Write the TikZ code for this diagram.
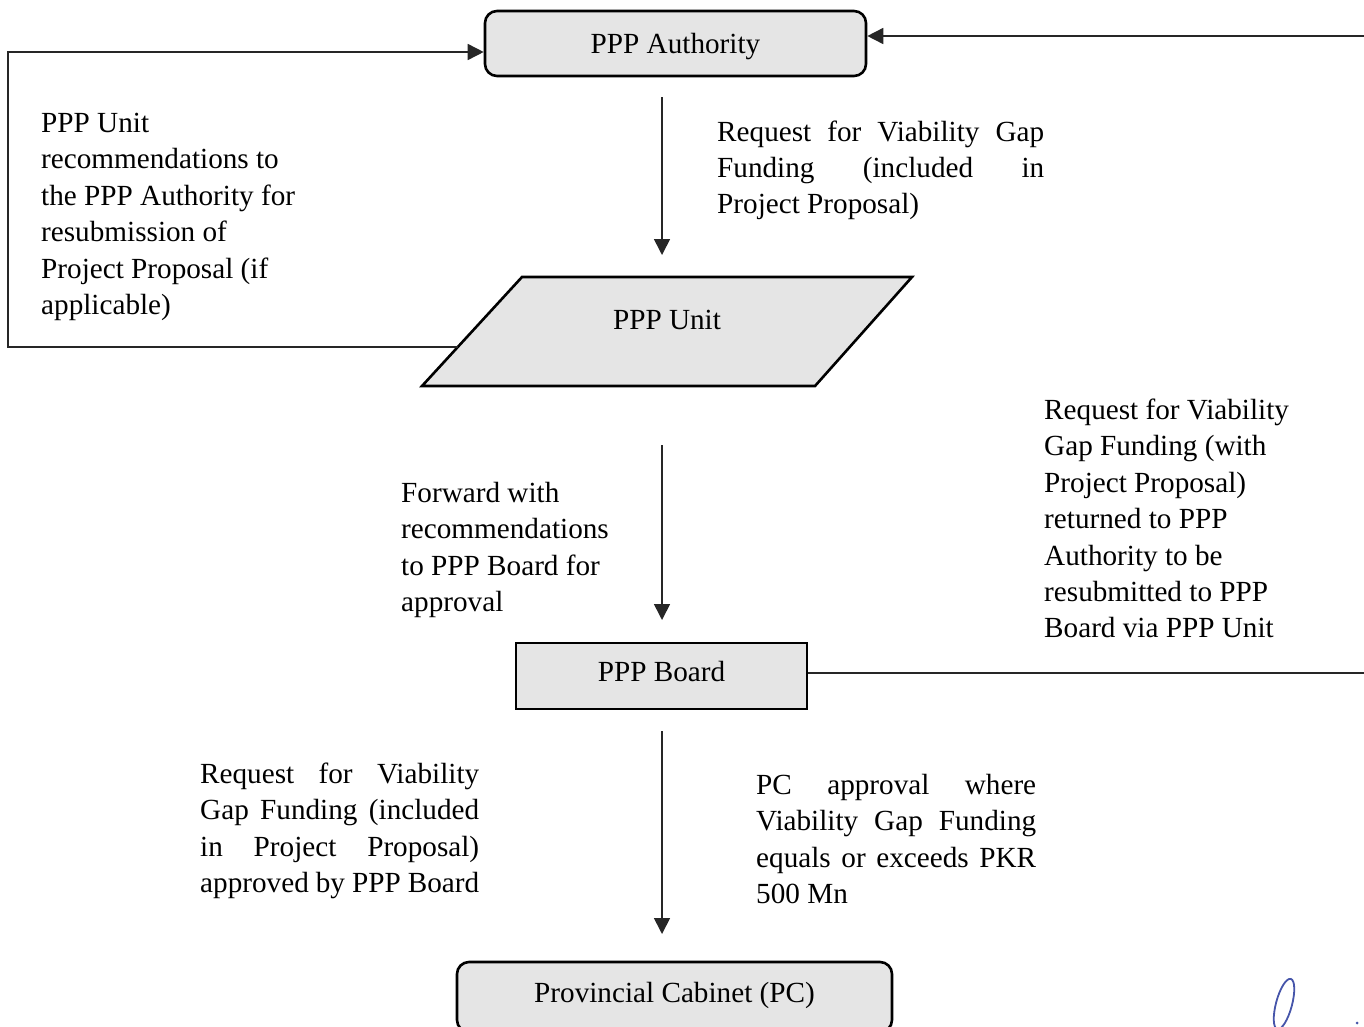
\documentclass[tikz,border=0pt]{standalone}
\usepackage{fontspec}
\setmainfont{Liberation Serif}
\usetikzlibrary{arrows.meta,calc}
\begin{document}
\begin{tikzpicture}[x=1pt,y=-1pt,
  txt/.style={font=\fontsize{29.2}{36.4}\selectfont, inner sep=0pt, text=black},
  boxfill/.style={fill=black!10, draw=black, line width=2.6pt},
  thin/.style={draw=black!85, line width=1.6pt},
  arr/.style={thin, -{Triangle[length=16pt,width=16pt]}}
]
\useasboundingbox (0,0) rectangle (1364,1026);

% nodes
\node[boxfill, rounded corners=12pt, minimum width=381pt, minimum height=65pt, txt, inner sep=0pt, text height=20pt, text depth=0pt] (auth) at (675.5,43.5) {PPP Authority};
\coordinate (p1) at (422,386);
\coordinate (p2) at (815,386);
\coordinate (p3) at (912,277);
\coordinate (p4) at (522,277);
\draw[boxfill] (p1) -- (p2) -- (p3) -- (p4) -- cycle;
\node[txt] (unit) at (667,320) {PPP Unit};
\node[boxfill, minimum width=291pt, minimum height=66pt, txt, inner sep=0pt, text height=19pt, text depth=8pt] (board) at (661.5,676) {PPP Board};
\node[boxfill, rounded corners=12pt, minimum width=435pt, minimum height=70pt, txt, inner sep=0pt, text height=19pt, text depth=8pt] (pc) at (674.5,997) {Provincial Cabinet (PC)};

% connectors
\coordinate (rin) at (1364,36);
\draw[arr] (rin) -- (rin -| auth.east);

\coordinate (uL) at (458,347);
\coordinate (lb) at (8,347);
\coordinate (lt) at (8,52);
\draw[arr] (uL) -- (lb) -- (lt) -- (lt -| auth.west);

\coordinate (a1) at (662,97);
\coordinate (a2) at (662,255);
\draw[arr] (a1) -- (a2);

\coordinate (b1) at (662,445);
\coordinate (b2) at (662,620);
\draw[arr] (b1) -- (b2);

\coordinate (c1) at (662,731);
\coordinate (c2) at (662,934);
\draw[arr] (c1) -- (c2);

\coordinate (rout) at (1364,673);
\draw[thin] (rout -| board.east) -- (rout);

% labels
\node[txt, anchor=base west] (t1) at (41,132.5) {\parbox[t]{320pt}{PPP Unit\\recommendations to\\the PPP Authority for\\resubmission of\\Project Proposal (if\\applicable)}};

\node[txt, anchor=base west] (t2) at (717,141) {\parbox[t]{327pt}{\makebox[327pt][s]{Request for Viability Gap}\\\makebox[327pt][s]{Funding (included in}\\Project Proposal)}};

\node[txt, anchor=base west] (t3) at (401,502.5) {\parbox[t]{260pt}{Forward with\\recommendations\\to PPP Board for\\approval}};

\node[txt, anchor=base west] (t4) at (1044,419.5) {\parbox[t]{300pt}{Request for Viability\\Gap Funding (with\\Project Proposal)\\returned to PPP\\Authority to be\\resubmitted to PPP\\Board via PPP Unit}};

\node[txt, anchor=base west] (t5) at (200,783.5) {\parbox[t]{279pt}{\makebox[279pt][s]{Request for Viability}\\\makebox[279pt][s]{Gap Funding (included}\\\makebox[279pt][s]{in Project Proposal)}\\approved by PPP Board}};

\node[txt, anchor=base west] (t6) at (756,794.5) {\parbox[t]{280pt}{\makebox[280pt][s]{PC approval where}\\\makebox[280pt][s]{Viability Gap Funding}\\\makebox[280pt][s]{equals or exceeds PKR}\\500 Mn}};

% handwritten mark
\draw[color={rgb,255:red,70;green,85;blue,170}, line width=1.8pt, rotate around={-15:(1284,1004)}] (1284,1004) ellipse [x radius=8, y radius=26];
\fill[color={rgb,255:red,70;green,85;blue,170}] (1357,1023) circle (1.5);
\end{tikzpicture}
\end{document}
